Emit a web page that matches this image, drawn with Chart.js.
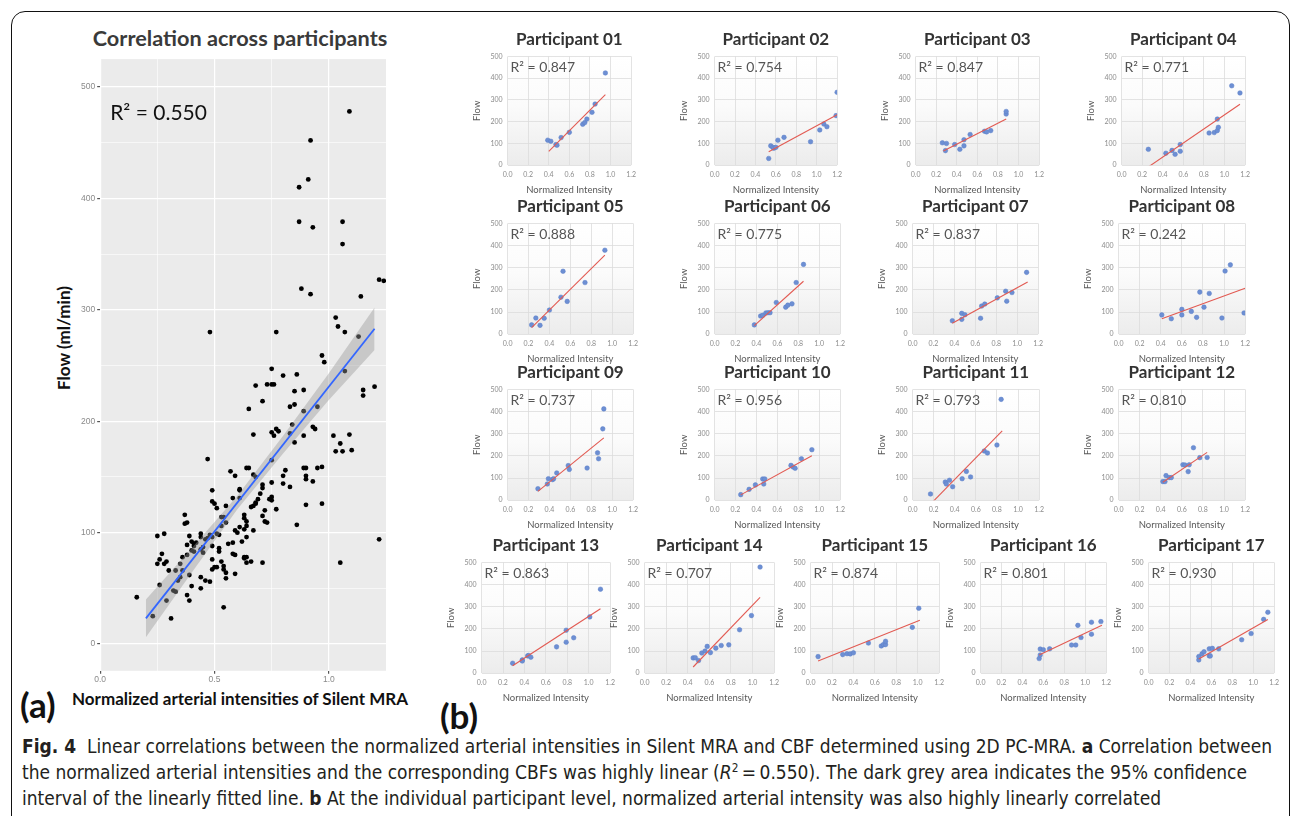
<!DOCTYPE html>
<html>
<head>
<meta charset="utf-8">
<script src="https://cdn.jsdelivr.net/npm/chart.js@4.4.1/dist/chart.umd.min.js"></script>
<style>
body { margin: 0; width: 1293px; height: 816px; background: #fff; position: relative; overflow: hidden; font-family: Lato, sans-serif; }
canvas { position: absolute; }
.frame { position: absolute; left: 11px; top: 11px; width: 1279px; height: 822px; border: 1.5px solid #111; border-radius: 14px; box-sizing: border-box; }
.panel { position: absolute; font-family: Lato, sans-serif; font-weight: bold; font-size: 35px; line-height: 35px; color: #111; }
.ctext { position: absolute; transform: translate(-50%, -50%); font-family: Lato, sans-serif; font-weight: bold; white-space: nowrap; }
.ylab { position: absolute; left: 63px; top: 338px; transform: translate(-50%, -50%) rotate(-90deg); font-family: Lato, sans-serif; font-weight: bold; font-size: 17px; color: #111; white-space: nowrap; }
.caption { position: absolute; left: 22px; top: 733px; font-family: "Liberation Sans Narrow", "DejaVu Sans Condensed", sans-serif; font-size: 19px; line-height: 26px; color: #231f20; white-space: nowrap; }
.caption sup { font-size: 0.62em; line-height: 0; }
</style>
</head>
<body>
<div class="frame"></div>
<div class="ctext" style="left:240px; top:38px; font-size:21.7px; color:#3a3a3a;">Correlation across participants</div>
<div class="ctext" style="left:240px; top:698px; font-size:17px; color:#111;">Normalized arterial intensities of Silent MRA</div>
<div class="ylab">Flow (ml/min)</div>
<div class="panel" style="left:20px; top:687px;">(a)</div>
<div class="panel" style="left:440px; top:698px;">(b)</div>
<div class="caption"><b>Fig. 4</b>&nbsp; Linear correlations between the normalized arterial intensities in Silent MRA and CBF determined using 2D PC-MRA. <b>a</b> Correlation between<br>the normalized arterial intensities and the corresponding CBFs was highly linear (<i>R</i><sup>2</sup>&thinsp;=&thinsp;0.550). The dark grey area indicates the 95% confidence<br>interval of the linearly fitted line. <b>b</b> At the individual participant level, normalized arterial intensity was also highly linearly correlated</div>
<script>
// ---- panel (a): pooled data, [intensity, flow]
const pooled = [
  [0.75,247],[0.80,241],[0.86,242],[0.68,232],[0.73,233],[0.75,233],[0.76,233],[0.71,218],[0.85,227],[0.89,228],
  [0.98,253],[1.07,245],[1.15,228],[1.15,223],[1.20,231],
  [0.65,211],[0.67,188],[0.75,190],[0.76,187],[0.77,193],[0.78,191],[0.83,189],[0.83,213],[0.85,215],[0.85,181],
  [0.89,187],[0.89,209],[0.84,197],[0.94,193],[0.95,213],[0.93,195],[1.02,187],[1.05,180],[1.09,188],[1.03,173],
  [1.06,173],[1.10,174],
  [0.47,166],[0.57,155],[0.59,151],[0.65,158],[0.64,158],[0.67,152],[0.68,150],[0.75,165],[0.81,156],[0.80,151],
  [0.80,144],[0.83,141],[0.89,158],[0.90,158],[0.90,151],[0.90,148],[0.93,146],[0.97,159],[0.95,158],[0.97,126],
  [0.90,125],[0.86,107],[1.22,94],[1.05,73],
  [0.49,138],[0.49,128],[0.50,126],[0.51,122],[0.55,124],[0.58,131],[0.61,139],[0.61,138],[0.61,131],[0.63,116],
  [0.63,113],[0.64,110],[0.64,106],[0.66,123],[0.67,124],[0.68,127],[0.68,126],[0.69,130],[0.70,135],[0.71,143],
  [0.71,140],[0.71,115],[0.72,120],[0.72,110],[0.73,109],[0.74,130],[0.75,132],[0.75,129],[0.75,145],[0.77,121],
  [0.71,73],[0.67,102],[0.63,103],[0.64,96],[0.62,92],[0.63,78],[0.63,77],[0.64,78],[0.64,73],[0.66,74],
  [0.58,81],[0.59,63],
  [0.25,97],[0.28,99],[0.37,116],[0.37,108],[0.38,109],[0.39,97],[0.40,92],[0.38,89],[0.41,90],[0.41,88],
  [0.44,99],[0.44,96],[0.46,94],[0.47,95],[0.48,98],[0.49,96],[0.49,88],[0.51,99],[0.52,98],[0.53,106],
  [0.53,114],[0.54,114],[0.55,109],[0.59,102],[0.60,100],[0.61,105],[0.58,91],[0.59,80],[0.56,90],[0.52,86],
  [0.52,83],[0.49,76],[0.49,67],[0.50,69],[0.51,69],[0.53,74],[0.54,70],[0.54,67],[0.55,64],[0.55,59],
  [0.54,33],[0.48,56],[0.46,57],[0.44,50],[0.44,60],[0.39,62],[0.40,52],[0.38,44],[0.39,39],[0.35,60],
  [0.36,66],[0.35,72],[0.33,66],[0.34,57],[0.32,48],[0.33,47],[0.29,74],[0.28,72],[0.30,66],[0.27,81],
  [0.25,72],[0.26,76],[0.26,53],[0.29,39],[0.31,23],[0.23,25],[0.16,42],[0.36,78],[0.38,80],[0.42,91],
  [0.45,82],[0.44,85],[0.40,84],[0.41,83],[0.45,87],
  [1.09,478],[0.92,452],[0.91,417],[0.87,410],[0.87,379],[0.93,374],[1.06,379],[1.06,359],[1.22,327],[1.24,326],
  [0.88,319],[0.92,314],[1.14,312],[1.03,293],[1.04,285],[1.07,280],[1.13,276],[0.48,280],[0.77,280],[0.97,259]
];
const fitX = [0.2, 1.2];
const fitY = [23, 283];
const bandX = [0.2, 0.4, 0.6, 0.8, 1.0, 1.2];
const bandLow = [6, 64, 121, 171, 219, 264];
const bandHigh = [40, 86, 133, 187, 243, 302];
const mainXTicks = [0, 0.25, 0.5, 0.75, 1.0];
const mainYTicks = [0, 50, 100, 150, 200, 250, 300, 350, 400, 450, 500];

// ---- panel (b): per participant
const partNames = ['Participant 01','Participant 02','Participant 03','Participant 04','Participant 05','Participant 06',
  'Participant 07','Participant 08','Participant 09','Participant 10','Participant 11','Participant 12',
  'Participant 13','Participant 14','Participant 15','Participant 16','Participant 17'];
const partR2 = ['0.847','0.754','0.847','0.771','0.888','0.775','0.837','0.242','0.737','0.956','0.793','0.810',
  '0.863','0.707','0.874','0.801','0.930'];
const smallXTicks = [0, 0.2, 0.4, 0.6, 0.8, 1.0, 1.2];
const smallYTicks = [0, 100, 200, 300, 400, 500];

const p01x = [0.39,0.42,0.47,0.48,0.52,0.60,0.73,0.75,0.77,0.82,0.85,0.95];
const p01y = [115,110,95,92,127,151,188,196,212,243,281,424];
const p01fx = [0.40,0.95], p01fy = [64,324];
const p02x = [0.53,0.55,0.57,0.58,0.60,0.62,0.68,0.94,1.03,1.07,1.10,1.19,1.20];
const p02y = [31,89,82,78,82,115,128,108,162,189,177,228,335];
const p02fx = [0.53,1.20], p02fy = [62,232];
const p03x = [0.26,0.30,0.29,0.38,0.43,0.47,0.47,0.53,0.67,0.69,0.73,0.88,0.88];
const p03y = [103,100,67,95,73,89,117,141,156,153,159,235,247];
const p03fx = [0.27,0.88], p03fy = [65,212];
const p04x = [0.26,0.43,0.49,0.52,0.57,0.57,0.85,0.90,0.93,0.94,0.93,1.07,1.15];
const p04y = [73,55,68,50,95,64,148,150,159,174,212,365,332];
const p04fx = [0.26,1.15], p04fy = [-8,280];
const p05x = [0.23,0.27,0.31,0.35,0.40,0.51,0.53,0.57,0.74,0.93];
const p05y = [42,73,40,72,109,167,284,148,233,379];
const p05fx = [0.23,0.93], p05fy = [30,357];
const p06x = [0.38,0.44,0.46,0.49,0.51,0.53,0.59,0.68,0.70,0.74,0.78,0.85];
const p06y = [42,82,85,96,97,97,143,122,131,137,233,315];
const p06fx = [0.38,0.85], p06fy = [39,239];
const p07x = [0.38,0.47,0.47,0.50,0.65,0.66,0.69,0.81,0.89,0.90,0.95,1.09];
const p07y = [61,94,67,88,72,127,136,164,194,149,188,279];
const p07fx = [0.38,1.10], p07fy = [49,236];
const p08x = [0.41,0.50,0.60,0.60,0.69,0.74,0.77,0.81,0.86,0.98,1.01,1.06,1.19];
const p08y = [87,70,112,87,103,76,190,122,184,73,285,313,96];
const p08fx = [0.41,1.20], p08fy = [70,207];
const p09x = [0.29,0.38,0.39,0.43,0.44,0.47,0.58,0.59,0.76,0.86,0.87,0.91,0.92];
const p09y = [52,73,97,93,97,123,156,139,145,214,187,322,412];
const p09fx = [0.29,0.92], p09fy = [40,281];
const p10x = [0.25,0.33,0.39,0.46,0.48,0.47,0.73,0.75,0.77,0.83,0.93];
const p10y = [25,49,69,96,96,73,157,150,144,187,228];
const p10fx = [0.25,0.93], p10fy = [24,201];
const p11x = [0.17,0.31,0.32,0.35,0.38,0.47,0.51,0.55,0.68,0.71,0.80,0.84];
const p11y = [28,82,73,90,61,97,130,105,222,213,249,455];
const p11fx = [0.17,0.85], p11fy = [-18,313];
const p12x = [0.42,0.44,0.45,0.48,0.50,0.61,0.63,0.66,0.67,0.71,0.77,0.84];
const p12y = [84,84,111,102,102,160,159,129,160,237,192,193];
const p12fx = [0.42,0.84], p12fy = [81,216];
const p13x = [0.29,0.38,0.38,0.43,0.44,0.46,0.70,0.79,0.79,0.86,1.01,1.11];
const p13y = [45,60,55,78,80,72,119,194,140,160,254,379];
const p13fx = [0.29,1.11], p13fy = [34,291];
const p14x = [0.45,0.47,0.50,0.53,0.56,0.58,0.61,0.66,0.71,0.78,0.88,0.99,1.07];
const p14y = [69,70,57,91,100,121,93,113,125,128,196,260,479];
const p14fx = [0.45,1.07], p14fy = [28,342];
const p15x = [0.07,0.30,0.34,0.37,0.40,0.54,0.66,0.68,0.70,0.70,0.95,1.01];
const p15y = [75,84,88,87,92,136,123,129,129,144,207,293];
const p15fx = [0.07,1.02], p15fy = [55,239];
const p16x = [0.56,0.57,0.57,0.60,0.66,0.87,0.91,0.93,0.96,1.06,1.06,1.15];
const p16y = [66,82,109,106,110,127,127,216,161,230,176,233];
const p16fx = [0.56,1.16], p16fy = [82,216];
const p17x = [0.48,0.48,0.51,0.53,0.58,0.61,0.58,0.59,0.67,0.89,0.98,1.10,1.14];
const p17y = [60,75,87,97,110,112,78,78,110,151,179,243,275];
const p17fx = [0.48,1.14], p17fy = [64,242];

const parts = [
  [p01x,p01y,p01fx,p01fy],[p02x,p02y,p02fx,p02fy],[p03x,p03y,p03fx,p03fy],[p04x,p04y,p04fx,p04fy],
  [p05x,p05y,p05fx,p05fy],[p06x,p06y,p06fx,p06fy],[p07x,p07y,p07fx,p07fy],[p08x,p08y,p08fx,p08fy],
  [p09x,p09y,p09fx,p09fy],[p10x,p10y,p10fx,p10fy],[p11x,p11y,p11fx,p11fy],[p12x,p12y,p12fx,p12fy],
  [p13x,p13y,p13fx,p13fy],[p14x,p14y,p14fx,p14fy],[p15x,p15y,p15fx,p15fy],[p16x,p16y,p16fx,p16fy],
  [p17x,p17y,p17fx,p17fy]
];

// plot-area boxes (left, top, width, height) for each small chart
const cells = [
  [508,56,124,109],[715,56,123,109],[916,56,124,109],[1122,56,124,109],
  [508,223,126,111],[715,223,126,111],[913,223,126,111],[1119,223,127,111],
  [508,389,126,111],[715,389,126,111],[913,389,127,111],[1119,389,127,111],
  [482,562,129,111],[645,562,130,111],[811,562,129,111],[981,562,126,111],[1149,562,126,111]
];

const pts = (xs, ys) => xs.map((v, k) => ({x: v, y: ys[k]}));

const bgPlugin = {
  id: 'bg',
  beforeDraw(chart, args, opts) {
    const a = chart.chartArea, c = chart.ctx;
    c.save();
    if (opts.gradient) {
      const g = c.createLinearGradient(0, a.top, 0, a.bottom);
      g.addColorStop(0, '#ffffff');
      g.addColorStop(0.45, '#fbfbfb');
      g.addColorStop(1, '#ececec');
      c.fillStyle = g;
    } else {
      c.fillStyle = opts.color || '#ebebeb';
    }
    c.fillRect(a.left, a.top, a.right - a.left, a.bottom - a.top);
    c.restore();
  }
};

const noteText = {
  id: 'note',
  afterDraw(chart, args, opts) {
    if (!opts.text) return;
    const a = chart.chartArea, c = chart.ctx;
    c.save();
    c.font = opts.size + 'px Lato';
    c.fillStyle = opts.color;
    c.textBaseline = 'middle';
    c.fillText(opts.text, a.left + opts.dx, a.top + opts.dy);
    c.restore();
  }
};

function makeChart(build, L, T, W, H) {
  let cv = document.createElement('canvas');
  cv.width = W + 160; cv.height = H + 160;
  document.body.appendChild(cv);
  let ch = new Chart(cv, build());
  const a = ch.chartArea;
  const il = a.left, it = a.top, ir = cv.width - a.right, ib = cv.height - a.bottom;
  ch.destroy();
  cv.remove();
  cv = document.createElement('canvas');
  cv.width = Math.round(W + il + ir);
  cv.height = Math.round(H + it + ib);
  cv.style.left = (L - il) + 'px';
  cv.style.top = (T - it) + 'px';
  document.body.appendChild(cv);
  return new Chart(cv, build());
}

function mainConfig() {
  const isMajorX = v => Math.abs(v * 2 - Math.round(v * 2)) < 1e-6;
  const isMajorY = v => v % 100 === 0;
  return {
    type: 'scatter',
    data: {
      datasets: [
        { type: 'line', data: pts(fitX, fitY), borderColor: '#3366ff', borderWidth: 1.8,
          pointRadius: 0, showLine: true, order: 0 },
        { type: 'line', data: pts(bandX, bandHigh), borderColor: 'rgba(0,0,0,0)', borderWidth: 0,
          pointRadius: 0, showLine: true, fill: '+1', backgroundColor: 'rgba(153,153,153,0.42)', order: 1 },
        { type: 'line', data: pts(bandX, bandLow), borderColor: 'rgba(0,0,0,0)', borderWidth: 0,
          pointRadius: 0, showLine: true, fill: false, order: 2 },
        { data: pooled.map(p => ({x: p[0], y: p[1]})), backgroundColor: '#000', borderWidth: 0,
          pointRadius: 2.4, order: 3 }
      ]
    },
    options: {
      responsive: false, animation: false, events: [],
      layout: { padding: { top: 6, right: 0, bottom: 0, left: 0 } },
      plugins: {
        legend: { display: false }, tooltip: { enabled: false },
        bg: { color: '#ebebeb' },
        note: { text: 'R² = 0.550', size: 21, color: '#111', dx: 10, dy: 54 }
      },
      scales: {
        x: {
          min: 0, max: 1.25,
          afterBuildTicks: ax => { ax.ticks = mainXTicks.map(v => ({value: v})); },
          ticks: { autoSkip: false, maxRotation: 0, padding: 1, color: '#8a8a8a',
            font: { family: 'Liberation Sans', size: 8.5 },
            callback: v => isMajorX(v) ? v.toFixed(1) : '' },
          grid: { color: '#ffffff', lineWidth: c => isMajorX(c.tick.value) ? 1.2 : 0.6,
            tickLength: 3, tickColor: c => isMajorX(c.tick.value) ? '#555' : 'rgba(0,0,0,0)' },
          border: { display: false }
        },
        y: {
          min: -24, max: 525,
          afterBuildTicks: ax => { ax.ticks = mainYTicks.map(v => ({value: v})); },
          ticks: { autoSkip: false, padding: 2, color: '#8a8a8a',
            font: { family: 'Liberation Sans', size: 8.5 },
            callback: v => isMajorY(v) ? String(v) : '' },
          grid: { color: '#ffffff', lineWidth: c => isMajorY(c.tick.value) ? 1.2 : 0.6,
            tickLength: 3, tickColor: c => isMajorY(c.tick.value) ? '#555' : 'rgba(0,0,0,0)' },
          border: { display: false }
        }
      }
    },
    plugins: [bgPlugin, noteText]
  };
}

function smallConfig(i) {
  const [xs, ys, fx, fy] = parts[i];
  return {
    type: 'scatter',
    data: {
      datasets: [
        { type: 'line', data: pts(fx, fy), borderColor: '#e25a52', borderWidth: 1.1,
          pointRadius: 0, showLine: true, order: 0 },
        { data: pts(xs, ys), backgroundColor: '#6d8fd3', borderColor: '#5b7fc9', borderWidth: 0.5,
          pointRadius: 2.3, order: 1 }
      ]
    },
    options: {
      responsive: false, animation: false, events: [],
      layout: { padding: { top: 0, right: 0, bottom: 0, left: 0 } },
      plugins: {
        legend: { display: false }, tooltip: { enabled: false },
        title: { display: true, text: partNames[i], fullSize: false, color: '#333',
          font: { family: 'Lato', weight: 'bold', size: 17 }, padding: { top: 0, bottom: 7 } },
        bg: { gradient: true },
        note: { text: 'R² = ' + partR2[i], size: 14, color: '#555', dx: 3, dy: 11 }
      },
      scales: {
        x: {
          min: 0, max: 1.2,
          afterBuildTicks: ax => { ax.ticks = smallXTicks.map(v => ({value: v})); },
          ticks: { autoSkip: false, maxRotation: 0, padding: 5, color: '#8c8c8c',
            font: { family: 'Lato', size: 7 }, callback: v => v.toFixed(1) },
          grid: { color: '#dcdcdc', lineWidth: 0.8, drawTicks: false },
          border: { display: false },
          title: { display: true, text: 'Normalized Intensity', color: '#595959',
            font: { family: 'Lato', size: 9.5 }, padding: { top: 1, bottom: 0 } }
        },
        y: {
          min: 0, max: 500,
          afterBuildTicks: ax => { ax.ticks = smallYTicks.map(v => ({value: v})); },
          ticks: { autoSkip: false, padding: 5, color: '#8c8c8c',
            font: { family: 'Lato', size: 7 } },
          grid: { color: '#dcdcdc', lineWidth: 0.8, drawTicks: false },
          border: { display: false },
          title: { display: true, text: 'Flow', color: '#595959',
            font: { family: 'Lato', size: 9.5 }, padding: { top: 0, bottom: 3 } }
        }
      }
    },
    plugins: [bgPlugin, noteText]
  };
}

function drawAll() {
  makeChart(mainConfig, 100, 59, 286, 612);
  cells.forEach((c, i) => makeChart(() => smallConfig(i), c[0], c[1], c[2], c[3]));
}

Promise.all([
  document.fonts.load('bold 17px Lato'),
  document.fonts.load('15px Lato'),
  document.fonts.load('9px "Liberation Sans"')
]).then(drawAll, drawAll);
</script>
</body>
</html>
